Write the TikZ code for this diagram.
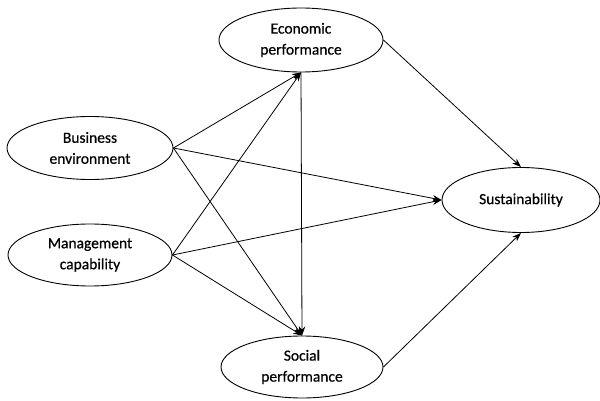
\documentclass[tikz,border=0pt]{standalone}
\usepackage{fontspec}
\setmainfont{Carlito}
\newfontfamily\lblfont{Carlito}[UprightFeatures={FakeBold=0.6}]
\usetikzlibrary{shapes.geometric,arrows.meta}
\begin{document}
\begin{tikzpicture}[x=1pt,y=-1pt,
  oval/.style={draw, ellipse, line width=0.9pt, inner sep=0pt, align=center,
    font=\lblfont\fontsize{15.5}{21}\selectfont},
  link/.style={line width=0.8pt, -{Stealth[length=9pt,width=6.5pt]}}]
\useasboundingbox (0,0) rectangle (600,401);
\node[oval, minimum width=164pt, minimum height=64pt] (econ) at (301,40) {Economic\\performance};
\node[oval, minimum width=166pt, minimum height=63pt] (bus) at (90,148) {Business\\environment};
\node[oval, minimum width=164pt, minimum height=62pt] (man) at (90,255) {Management\\capability};
\node[oval, minimum width=162pt, minimum height=62pt] (soc) at (302,367) {Social\\performance};
\node[oval, minimum width=158pt, minimum height=65pt] (sus) at (521,200) {Sustainability};
\draw[link] (bus.east) -- (econ.south);
\draw[link] (bus.east) -- (sus.west);
\draw[link] (bus.east) -- (soc.north);
\draw[link] (man.east) -- (econ.south);
\draw[link] (man.east) -- (sus.west);
\draw[link] (man.east) -- (soc.north);
\draw[link] (econ.south) -- (soc.north);
\draw[link] (econ.east) -- (sus.north);
\draw[link] (soc.east) -- (sus.south);
\end{tikzpicture}
\end{document}
